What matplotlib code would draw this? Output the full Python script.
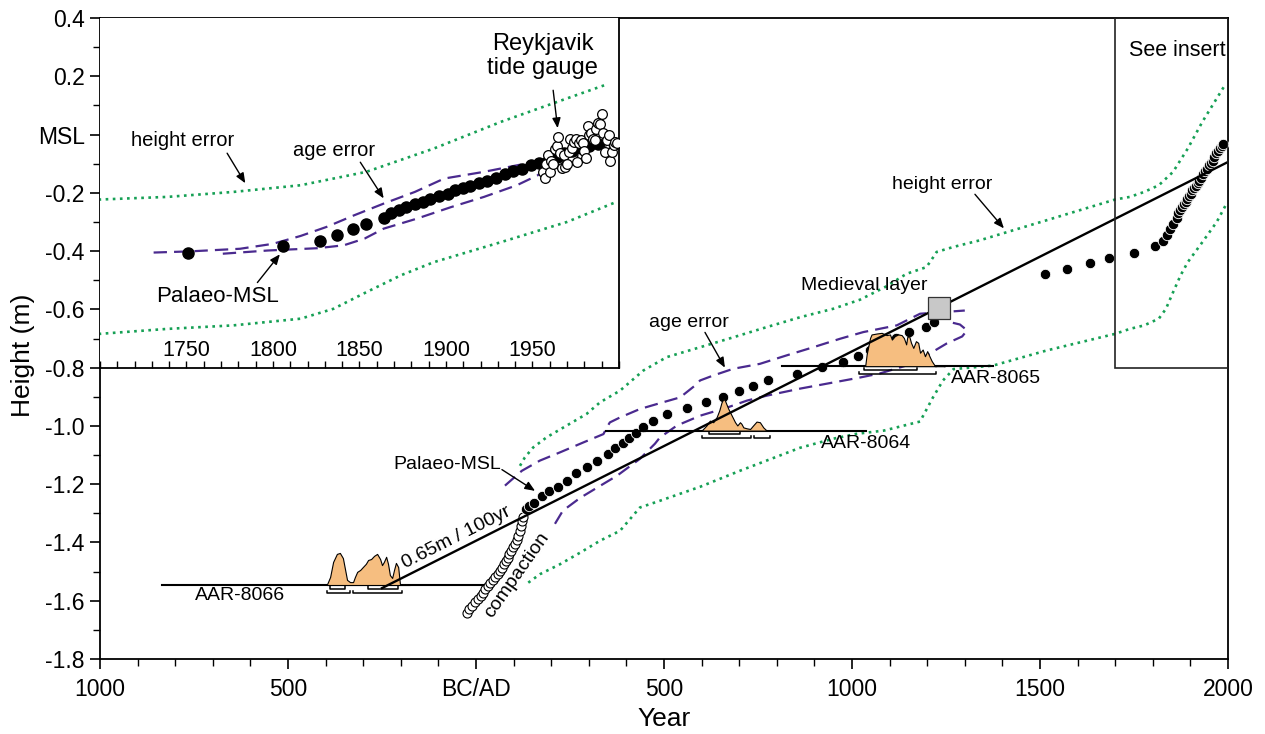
import numpy as np
import matplotlib
matplotlib.use("Agg")
import matplotlib.pyplot as plt
from matplotlib.ticker import FixedLocator, MultipleLocator, FuncFormatter
from matplotlib.patches import Rectangle

plt.rcParams['font.family'] = ['Liberation Sans', 'DejaVu Sans']
plt.rcParams['axes.unicode_minus'] = False

# reconstructed palaeo mean sea level (year AD, height m)
palaeo_year = [133, 142, 155, 175, 195, 219, 241, 266, 294, 321,
               350, 370, 390, 407, 425, 445, 471, 507, 562, 613,
               656, 700, 737, 777, 853, 919, 975, 1015, 1048, 1082,
               1117, 1151, 1197, 1218, 1513, 1572, 1633, 1684, 1751, 1806,
               1827, 1837, 1846, 1854, 1864, 1868, 1873, 1877, 1882, 1887,
               1891, 1896, 1901, 1905, 1910, 1914, 1919, 1924, 1929, 1934,
               1939, 1944, 1949, 1954, 1959, 1964, 1968, 1973, 1978, 1983, 1988]
palaeo_height = [-1.285, -1.274, -1.263, -1.240, -1.225, -1.211, -1.188, -1.160, -1.142, -1.119,
                 -1.095, -1.076, -1.058, -1.042, -1.025, -1.003, -0.982, -0.959, -0.938, -0.919,
                 -0.902, -0.879, -0.862, -0.842, -0.821, -0.799, -0.781, -0.760, -0.741, -0.717,
                 -0.697, -0.678, -0.661, -0.642, -0.480, -0.460, -0.440, -0.425, -0.405, -0.383,
                 -0.367, -0.346, -0.324, -0.307, -0.285, -0.268, -0.260, -0.249, -0.237, -0.231,
                 -0.220, -0.212, -0.205, -0.191, -0.183, -0.176, -0.168, -0.159, -0.148, -0.137,
                 -0.126, -0.117, -0.105, -0.097, -0.090, -0.077, -0.065, -0.057, -0.045, -0.040, -0.031]

# uncorrected levels affected by compaction
compaction_year = [-25, -18, -11, -3, 5, 12, 19, 25, 32, 38, 45, 51, 58, 64,
                   69, 74, 79, 84, 89, 94, 99, 103, 108, 112, 117, 120, 123, 126]
compaction_height = [-1.641, -1.630, -1.619, -1.606, -1.594, -1.583, -1.572, -1.561, -1.550, -1.540,
                     -1.529, -1.519, -1.508, -1.498, -1.486, -1.475, -1.463, -1.452, -1.440, -1.429,
                     -1.417, -1.404, -1.391, -1.377, -1.360, -1.344, -1.328, -1.311]

# Reykjavik tide gauge annual means
tide_year = [1956, 1957, 1958, 1959, 1960, 1961, 1962, 1963, 1964, 1965,
             1966, 1967, 1968, 1969, 1970, 1971, 1972, 1973, 1974, 1975,
             1976, 1977, 1978, 1979, 1980, 1981, 1982, 1983, 1984, 1985,
             1986, 1987, 1988, 1989, 1990, 1991, 1992, 1993, 1994, 1995,
             1996, 1997, 1998, 1999]
tide_height = [-0.13, -0.15, -0.10, -0.07, -0.13, -0.09, -0.10, -0.05, -0.04, -0.01,
               -0.065, -0.115, -0.07, -0.11, -0.10, -0.06, -0.015, -0.045, -0.025, -0.015,
               -0.095, -0.03, -0.02, -0.03, -0.055, -0.08, 0.03, 0.0, 0.005, -0.015,
               -0.02, 0.02, 0.04, 0.035, 0.07, 0.005, -0.06, -0.02, 0.0, -0.09,
               -0.06, -0.035, -0.025, -0.03]

# height error envelope
he_up_year = [117, 130, 152, 188, 241, 294, 330, 383, 445, 507, 596, 684, 773, 862, 950, 1021,
              1090, 1145, 1198, 1216, 1225, 1269, 1340, 1430, 1518, 1610, 1700, 1739, 1777,
              1816, 1854, 1893, 1932, 1970, 1992]
he_up = [-1.137, -1.108, -1.074, -1.039, -0.999, -0.959, -0.919, -0.879, -0.810, -0.764,
         -0.730, -0.696, -0.661, -0.627, -0.598, -0.567, -0.522, -0.478, -0.455, -0.421,
         -0.403, -0.386, -0.363, -0.328, -0.294, -0.258, -0.223, -0.214, -0.197, -0.174,
         -0.128, -0.048, 0.044, 0.124, 0.170]
he_lo_year = [139, 170, 223, 277, 330, 383, 436, 489, 596, 702, 862, 950, 1013, 1085, 1181,
              1215, 1242, 1270, 1375, 1518, 1700, 1739, 1777, 1816, 1835, 1854, 1874, 1893,
              1932, 1970, 1997]
he_lo = [-1.538, -1.509, -1.475, -1.435, -1.394, -1.360, -1.280, -1.257, -1.209, -1.154,
         -1.075, -1.044, -1.027, -1.016, -0.985, -0.903, -0.844, -0.805, -0.793, -0.741,
         -0.684, -0.667, -0.655, -0.632, -0.598, -0.541, -0.483, -0.438, -0.369, -0.300, -0.235]

# age error envelope, main record
ae_up_year = [77, 122, 170, 223, 285, 339, 348, 356, 383, 436, 481, 543, 582, 596, 631, 684,
              755, 826, 897, 968, 1030, 1119, 1181, 1300]
ae_up = [-1.205, -1.154, -1.119, -1.091, -1.057, -1.028, -1.005, -0.988, -0.971, -0.942,
         -0.925, -0.902, -0.862, -0.844, -0.827, -0.804, -0.787, -0.758, -0.730, -0.701,
         -0.678, -0.655, -0.615, -0.604]
ae_lo_year = [210, 231, 277, 322, 375, 436, 476, 489, 534, 596, 668, 721, 774, 862, 950, 1021,
              1074, 1162, 1252, 1293, 1306, 1287, 1255]
ae_lo = [-1.336, -1.291, -1.247, -1.212, -1.171, -1.113, -1.061, -1.040, -0.999, -0.965,
         -0.937, -0.913, -0.896, -0.872, -0.851, -0.834, -0.820, -0.786, -0.717, -0.693,
         -0.672, -0.652, -0.642]

# age error envelope, 18th-20th century
ins_ae_up_year = [1731, 1752, 1781, 1800, 1816, 1831, 1847, 1864, 1882, 1899, 1922, 1951, 1957]
ins_ae_up = [-0.405, -0.401, -0.392, -0.375, -0.348, -0.317, -0.277, -0.237, -0.197, -0.151,
             -0.128, -0.094, -0.091]
ins_ae_lo_year = [1771, 1797, 1826, 1841, 1853, 1864, 1883, 1903, 1922, 1941, 1953, 1959]
ins_ae_lo = [-0.409, -0.398, -0.390, -0.380, -0.357, -0.323, -0.289, -0.249, -0.214, -0.174,
             -0.140, -0.111]

# radiocarbon samples: height, calibrated probability, 1 and 2 sigma ranges
aar_names = ['AAR-8066', 'AAR-8064', 'AAR-8065']
aar_height = [-1.546, -1.016, -0.795]
aar_line_start = [-836, 346, 813]
aar_line_end = [19, 1037, 1376]
aar8066_year = [-397, -388, -380, -370, -362, -354, -348, -343, -335, -327, -322, -316, -308,
                -301, -293, -287, -279, -271, -263, -255, -250, -245, -239, -234, -229, -223,
                -218, -213, -207, -202, -189, -176]
aar8066_prob = [0, .25, .72, .97, 1.0, .84, .47, .16, .09, .09, .25, .41, .47, .56, .66, .78,
                .81, .91, .97, .81, .62, .72, .88, .66, .31, .22, .47, .69, .56, 0, .03, 0]
aar8064_year = [600, 613, 622, 631, 640, 647, 653, 658, 662, 671, 680, 689, 695, 702, 706, 711,
                720, 729, 737, 746, 755, 764, 773]
aar8064_prob = [0, .16, .31, .26, .42, .63, .88, .99, .94, .68, .47, .26, .16, .26, .21, .10,
                .07, .05, .16, .28, .26, .10, 0]
aar8065_year = [1035, 1039, 1048, 1052, 1066, 1079, 1092, 1101, 1106, 1114, 1123, 1132, 1138,
                1144, 1147, 1152, 1157, 1163, 1170, 1176, 1181, 1188, 1194, 1200, 1206, 1212,
                1221, 1234, 1247]
aar8065_prob = [0, .37, .88, .99, 1.02, 1.04, .97, .99, .83, .94, .99, .97, .88, .68, .91, .94,
                .73, .57, .78, .73, .42, .52, .31, .47, .31, .16, 0, .02, 0]
aar_sigma1 = [[(-388, -348), (-287, -207)], [(620, 703)], [(1031, 1172)]]
aar_sigma2 = [[(-397, -335), (-328, -198)], [(600, 731), (739, 782)], [(1019, 1223)]]

# medieval layer and linear trend through it
medieval_year = 1231
medieval_height = -0.594
trend_rate = 0.65          # mm per year
trend_span = [-250, 2000]

GREEN = '#16a055'
PURPLE = '#4a2a8f'
ORANGE = '#f6be80'
HIST_H = 0.11

fig = plt.figure(figsize=(12.65, 7.34), dpi=100)
ax = fig.add_axes([100 / 1265, 1 - 659 / 734, 1128 / 1265, 641 / 734])
ax.set_xlim(-1000, 2000)
ax.set_ylim(-1.8, 0.4)

dots = dict(ls='none', marker='o', ms=7.5, mfc='black', mec='white', mew=0.6)
green_ls = dict(color=GREEN, lw=1.9, ls=(0, (1, 1.7)))
purple_ls = dict(color=PURPLE, lw=1.6, ls=(0, (6, 3.2)))

ax.plot(he_up_year, he_up, zorder=2, **green_ls)
ax.plot(he_lo_year, he_lo, zorder=2, **green_ls)
ax.plot(ae_up_year, ae_up, zorder=2, **purple_ls)
ax.plot(ae_lo_year, ae_lo, zorder=2, **purple_ls)

ax.plot(compaction_year, compaction_height, ls='none', marker='o', ms=6.5,
        mfc='white', mec='black', mew=0.8, zorder=3)
ax.plot(palaeo_year, palaeo_height, zorder=3, **dots)

hists = [(aar8066_year, aar8066_prob), (aar8064_year, aar8064_prob), (aar8065_year, aar8065_prob)]
for i, (yrs, prob) in enumerate(hists):
    base = aar_height[i]
    ax.plot([aar_line_start[i], aar_line_end[i]], [base, base], color='black', lw=1.5, zorder=4)
    ax.fill_between(yrs, base, base + np.array(prob) * HIST_H, facecolor=ORANGE,
                    edgecolor='black', lw=0.8, zorder=4.2)
    for lo, hi in aar_sigma1[i]:
        y = base - 0.013
        ax.plot([lo, lo, hi, hi], [y + 0.008, y, y, y + 0.008], color='black', lw=1.1, zorder=4.3)
    for lo, hi in aar_sigma2[i]:
        y = base - 0.027
        ax.plot([lo, lo, hi, hi], [y + 0.008, y, y, y + 0.008], color='black', lw=1.1, zorder=4.3)

trend_h = [medieval_height + trend_rate / 1000 * (t - medieval_year) for t in trend_span]
ax.plot(trend_span, trend_h, color='black', lw=1.7, zorder=5)
ax.plot([medieval_year], [medieval_height], ls='none', marker='s', ms=15.5,
        mfc='#c8c8c8', mec='#333333', mew=0.9, zorder=6)

ax.add_patch(Rectangle((1700, -0.8), 300, 1.2, fill=False, ec='#222222', lw=1.2, zorder=6))

# text and arrows
fs = 14
arrow = dict(arrowstyle='-|>,head_length=0.6,head_width=0.25', color='black', lw=1.0,
             shrinkA=0, shrinkB=0)
ax.text(1239, -0.171, 'height error', fontsize=fs, ha='center', va='center', zorder=7)
ax.annotate('', xy=(1404, -0.322), xytext=(1327, -0.205), arrowprops=arrow, zorder=7)
ax.text(566, -0.645, 'age error', fontsize=fs, ha='center', va='center', zorder=7)
ax.annotate('', xy=(662, -0.800), xytext=(609, -0.679), arrowprops=arrow, zorder=7)
ax.text(-77, -1.133, 'Palaeo-MSL', fontsize=fs, ha='center', va='center', zorder=7)
ax.annotate('', xy=(157, -1.223), xytext=(69, -1.150), arrowprops=arrow, zorder=7)
ax.text(1032, -0.518, 'Medieval layer', fontsize=fs, ha='center', va='center', zorder=7)
ax.text(-628, -1.583, aar_names[0], fontsize=fs, ha='center', va='center', zorder=7)
ax.text(1037, -1.061, aar_names[1], fontsize=fs, ha='center', va='center', zorder=7)
ax.text(1383, -0.838, aar_names[2], fontsize=fs, ha='center', va='center', zorder=7)
ax.text(1864, 0.290, 'See insert', fontsize=15.5, ha='center', va='center', zorder=7)

p = ax.transData.transform([(trend_span[0], trend_h[0]), (trend_span[1], trend_h[1])])
ang = np.degrees(np.arctan2(p[1, 1] - p[0, 1], p[1, 0] - p[0, 0]))
ax.text(-53, -1.384, '0.65m / 100yr', fontsize=fs, rotation=ang, rotation_mode='anchor',
        ha='center', va='center', zorder=7)
ax.text(109, -1.511, 'compaction', fontsize=fs, rotation=55, rotation_mode='anchor',
        ha='center', va='center', zorder=7)

# axes styling
for s in ax.spines.values():
    s.set_linewidth(1.3)
ax.xaxis.set_major_locator(FixedLocator([-1000, -500, 0, 500, 1000, 1500, 2000]))
ax.xaxis.set_minor_locator(MultipleLocator(100))
ax.xaxis.set_major_formatter(FuncFormatter(lambda v, p: 'BC/AD' if v == 0 else f'{abs(v):.0f}'))
ax.yaxis.set_major_locator(MultipleLocator(0.2))
ax.yaxis.set_minor_locator(MultipleLocator(0.1))
ax.yaxis.set_major_formatter(FuncFormatter(lambda v, p: 'MSL' if abs(v) < 1e-9 else f'{v:.1f}'))
ax.tick_params(which='major', length=7, width=1.2)
ax.tick_params(which='minor', length=5, width=1.0)
ax.tick_params(axis='y', labelsize=16.5, pad=4)
ax.tick_params(axis='x', labelsize=16.5, pad=7)
ax.set_xlabel('Year', fontsize=19, labelpad=4)
ax.set_ylabel('Height (m)', fontsize=19)
ax.yaxis.set_label_coords(-0.058, 0.474)

# insert: 1700-2000 on the same height scale
ins = ax.inset_axes([-1000, -0.8, 1380, 1.2], transform=ax.transData, zorder=8)
ins.set_xlim(1700, 2000)
ins.set_ylim(-0.8, 0.4)
ins.spines['left'].set_visible(False)
ins.spines['top'].set_visible(False)
ins.spines['right'].set_linewidth(1.3)
ins.spines['bottom'].set_linewidth(1.3)
ins.tick_params(axis='y', left=False, labelleft=False)
ins.xaxis.set_major_locator(FixedLocator([1750, 1800, 1850, 1900, 1950]))
ins.xaxis.set_minor_locator(MultipleLocator(10))
ins.tick_params(axis='x', which='both', direction='in', length=5, width=1.0,
                labelsize=15.5, pad=-20)

ins.plot(he_up_year, he_up, **green_ls)
ins.plot(he_lo_year, he_lo, **green_ls)
ins.plot(ins_ae_up_year, ins_ae_up, **purple_ls)
ins.plot(ins_ae_lo_year, ins_ae_lo, **purple_ls)
ins.plot(tide_year, tide_height, color='black', lw=0.7, zorder=3)
ins.plot(palaeo_year, palaeo_height, zorder=3, ms=8, ls='none', marker='o', mfc='black',
         mec='black')
ins.plot(tide_year, tide_height, ls='none', marker='o', ms=7, mfc='white', mec='black',
         mew=0.9, zorder=4)

ifs = 14.5
ins.text(1748, -0.019, 'height error', fontsize=ifs, ha='center', va='center')
ins.annotate('', xy=(1784, -0.167), xytext=(1773.5, -0.064), arrowprops=arrow)
ins.text(1835.5, -0.054, 'age error', fontsize=ifs, ha='center', va='center')
ins.annotate('', xy=(1864, -0.219), xytext=(1850.5, -0.095), arrowprops=arrow)
ins.text(1768, -0.556, 'Palaeo-MSL', fontsize=16, ha='center', va='center')
ins.annotate('', xy=(1804, -0.411), xytext=(1791, -0.508), arrowprops=arrow)
ins.text(1956, 0.269, 'Reykjavik\ntide gauge', fontsize=17, ha='center', va='center',
         linespacing=1.1)
ins.annotate('', xy=(1964.6, 0.022), xytext=(1962, 0.152), arrowprops=arrow)

fig.savefig('out.png', dpi=100)
